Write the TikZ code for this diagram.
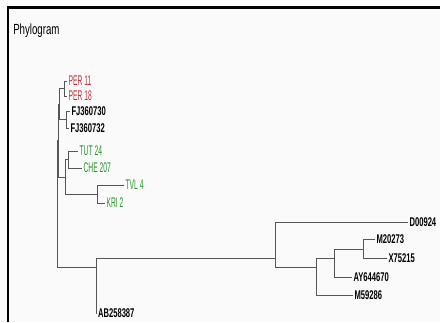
\documentclass[tikz,border=0pt]{standalone}
\usepackage{fontspec}
\setmainfont{Liberation Sans}
\newfontfamily\titlefont[FakeStretch=0.66]{Liberation Sans}
\newfontfamily\taxonfont[FakeStretch=0.48]{Liberation Sans}
\newfontfamily\accfont[FakeStretch=0.6]{Liberation Sans}
\definecolor{perred}{RGB}{196,42,52}
\definecolor{tutgreen}{RGB}{34,150,34}
\definecolor{branchgray}{RGB}{85,85,85}
\tikzset{
  branch/.style={draw=branchgray, line width=0.6pt},
  leaf/.style={anchor=west, inner sep=1pt, font=\accfont\bfseries\fontsize{9.5}{11}\selectfont},
  redleaf/.style={leaf, text=perred, font=\taxonfont\fontsize{10.5}{12}\selectfont},
  greenleaf/.style={leaf, text=tutgreen, font=\taxonfont\fontsize{10.5}{12}\selectfont},
}
\begin{document}
\begin{tikzpicture}[x=0.75pt, y=-0.75pt]
    \useasboundingbox (0,0) rectangle (440,322);
    \clip (0,0) rectangle (440,322);
    \fill[white!98!black] (0,0) rectangle (440,322);

    % Frame and title
    \draw[line width=1.6pt] (8,322) -- (8,7.5) -- (440,7.5);
    \node[anchor=west, inner sep=0pt, font=\titlefont\fontsize{11}{13}\selectfont] (title) at (13,31) {Phylogram};

    % Internal nodes
    \coordinate (R)   at (57,203);
    \coordinate (AG)  at (58,140);
    \coordinate (A)   at (59.5,104);
    \coordinate (PER) at (64,88);
    \coordinate (FJ)  at (66.5,119.5);
    \coordinate (G)   at (65.5,177);
    \coordinate (TC)  at (68,159.5);
    \coordinate (TK)  at (97,194);
    \coordinate (RC)  at (96,267);
    \coordinate (B)   at (275,258);
    \coordinate (C)   at (316,267);
    \coordinate (E)   at (334,258);
    \coordinate (F)   at (363,249);

    % Leaves
    \node[redleaf]   (per11)  at (67,81)   {PER 11};
    \node[redleaf]   (per18)  at (67,96)   {PER 18};
    \node[leaf]      (fj730)  at (70,111)  {FJ360730};
    \node[leaf]      (fj732)  at (69,128)  {FJ360732};
    \node[greenleaf] (tut24)  at (78,151)  {TUT 24};
    \node[greenleaf] (che207) at (82,168)  {CHE 207};
    \node[greenleaf] (tvl4)   at (124,185) {TVL 4};
    \node[greenleaf] (kri2)   at (105,203) {KRI 2};
    \node[leaf]      (ab387)  at (96.5,313) {AB258387};
    \node[leaf]      (d924)   at (408,222) {D00924};
    \node[leaf]      (m273)   at (375,239) {M20273};
    \node[leaf]      (x215)   at (387,258) {X75215};
    \node[leaf]      (ay670)  at (352,277) {AY644670};
    \node[leaf]      (m286)   at (353,295) {M59286};

    % Branches
    \foreach \p/\c in {R/AG, R/RC, AG/A, AG/G, A/PER, A/FJ, PER/per11, PER/per18,
                       FJ/fj730, FJ/fj732, G/TC, G/TK, TC/tut24, TC/che207,
                       TK/tvl4, TK/kri2, RC/B, RC/ab387, B/d924, B/C, C/E,
                       C/m286, E/F, E/ay670, F/m273, F/x215}
        \draw[branch] (\p) |- (\c);
\end{tikzpicture}
\end{document}
